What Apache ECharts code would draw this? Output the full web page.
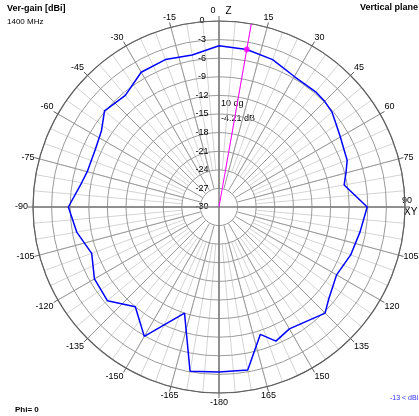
<!DOCTYPE html>
<html><head><meta charset="utf-8">
<script src="https://cdn.jsdelivr.net/npm/echarts@6/dist/echarts.min.js"></script>
<style>html,body{margin:0;padding:0;background:#fff}#c{width:419px;height:416px}</style>
</head><body><div id="c"></div>
<script>
// Vertical-plane gain pattern, angles in degrees (0 = Z, +90 = XY), gain in dBi
const angles = [0, 10, 20, 30, 40, 45, 50, 55, 60, 65, 70, 75, 80, 90, 100, 110, 120, 130, 135, 150, 157, 162, 170, 180,
  -170, -162, -150, -140, -130, -120, -110, -100, -90, -80, -75, -65, -57, -50, -40, -30, -20, -10];
const gains = [-4.0, -4.21, -4.7, -5.7, -5.75, -5.9, -6.2, -6.9, -7.4, -7.8, -8.0, -8.8, -9.5, -6.1, -6.9, -7.4, -8.1, -6.9, -5.8, -7.3, -6.5, -8.4, -3.3, -3.4,
  -3.1, -12.0, -5.9, -9.0, -6.5, -6.8, -8.15, -6.7, -5.7, -7.5, -8.0, -8.0, -7.4, -5.9, -6.5, -4.9, -4.7, -5.1];
const radiusTicks = [-30, -27, -24, -21, -18, -15, -12, -9, -6, -3, 0];
const maxAngle = 10;
const maxGain = -4.21;
const freqText = '1400 MHz';

const pts = angles.map((a, i) => [gains[i], (a + 360) % 360]);
pts.push(pts[0]);

const chart = echarts.init(document.getElementById('c'), null, {renderer: 'canvas'});
const C = [219, 207];
const R = 186;
const fontFam = 'Liberation Sans, Arial, sans-serif';
const angBase = {type: 'value', min: 0, max: 360, startAngle: 90, clockwise: true};
const radHidden = {type: 'value', min: -30, max: 0, axisLine: {show: false}, axisTick: {show: false}, axisLabel: {show: false}, splitLine: {show: false}};

chart.setOption({
  animation: false,
  polar: [
    {center: C, radius: [0, R]},
    {center: C, radius: [19, R]},
    {center: C, radius: [37, R]}
  ],
  angleAxis: [
    Object.assign({}, angBase, {polarIndex: 0, interval: 90, z: 3,
      axisLine: {show: true, lineStyle: {color: '#606060', width: 1.2}},
      axisTick: {show: false}, axisLabel: {show: false},
      splitLine: {show: true, lineStyle: {color: '#808080', width: 1.5}}}),
    Object.assign({}, angBase, {polarIndex: 1, interval: 15, z: 1,
      axisLine: {show: false},
      axisTick: {show: true, inside: false, length: 5, lineStyle: {color: '#606060'}},
      axisLabel: {show: true, margin: 5, fontSize: 9, fontFamily: fontFam, color: '#000',
        formatter: function (v) {
          if (v === 0) return '{a|0}    {z|Z}';
          if (v === 90) return '{n|90}\n{x|XY}';
          if (v === 360) return '';
          return String(v >= 180 ? v - 360 : v);
        },
        rich: {a: {fontSize: 9, fontFamily: fontFam, padding: [0, 0, 0, 4]}, z: {fontSize: 10, fontFamily: fontFam},
          n: {fontSize: 9, fontFamily: fontFam, padding: [0, 0, 2, -8]}, x: {fontSize: 10, fontFamily: fontFam, padding: [0, 0, 0, -6]}}},
      splitLine: {show: true, lineStyle: {color: '#999999', width: 1}}}),
    Object.assign({}, angBase, {polarIndex: 2, interval: 5, z: 0,
      axisLine: {show: false}, axisTick: {show: false}, axisLabel: {show: false},
      splitLine: {show: true, lineStyle: {color: '#d4d4d4', width: 1}}})
  ],
  radiusAxis: [
    {polarIndex: 0, type: 'value', min: -30, max: 0, interval: 3, z: 2,
      axisLine: {show: false}, axisTick: {show: false},
      axisLabel: {show: true, margin: 17, align: 'center', fontSize: 9, fontFamily: fontFam, color: '#000'},
      splitLine: {show: true, lineStyle: {color: '#9a9a9a', width: 1}}},
    Object.assign({polarIndex: 1}, radHidden),
    Object.assign({polarIndex: 2}, radHidden)
  ],
  series: [
    {type: 'line', coordinateSystem: 'polar', polarIndex: 0, data: pts, symbol: 'none', z: 5,
      lineStyle: {color: '#0000ff', width: 1.5}},
    {type: 'line', coordinateSystem: 'polar', polarIndex: 0, data: [[-30, maxAngle], [0, maxAngle]], symbol: 'none', z: 6,
      lineStyle: {color: '#ff00ff', width: 1}},
    {type: 'scatter', coordinateSystem: 'polar', polarIndex: 0, data: [[maxGain, maxAngle]], symbol: 'circle', symbolSize: 6, z: 7,
      itemStyle: {color: '#ff00ff'}}
  ],
  graphic: [
    {type: 'text', left: 7, top: 4, style: {text: 'Ver-gain [dBi]', font: 'bold 9px ' + fontFam, fill: '#000'}},
    {type: 'text', left: 7, top: 18, style: {text: freqText, font: '8px ' + fontFam, fill: '#000'}},
    {type: 'text', left: 360, top: 3, style: {text: 'Vertical plane', font: 'bold 9px ' + fontFam, fill: '#000'}},
    {type: 'text', left: 15, top: 406, style: {text: 'Phi= 0', font: 'bold 8px ' + fontFam, fill: '#000'}},
    {type: 'text', left: 390, top: 395, style: {text: '-13 < dBi < -4', font: '7px ' + fontFam, fill: '#3030ff'}},
    {type: 'text', left: 221, top: 99, style: {text: maxAngle + ' dg', font: '9px ' + fontFam, fill: '#000'}},
    {type: 'text', left: 221, top: 114, style: {text: maxGain.toFixed(2) + ' dB', font: '9px ' + fontFam, fill: '#000'}}
  ]
});
</script></body></html>
